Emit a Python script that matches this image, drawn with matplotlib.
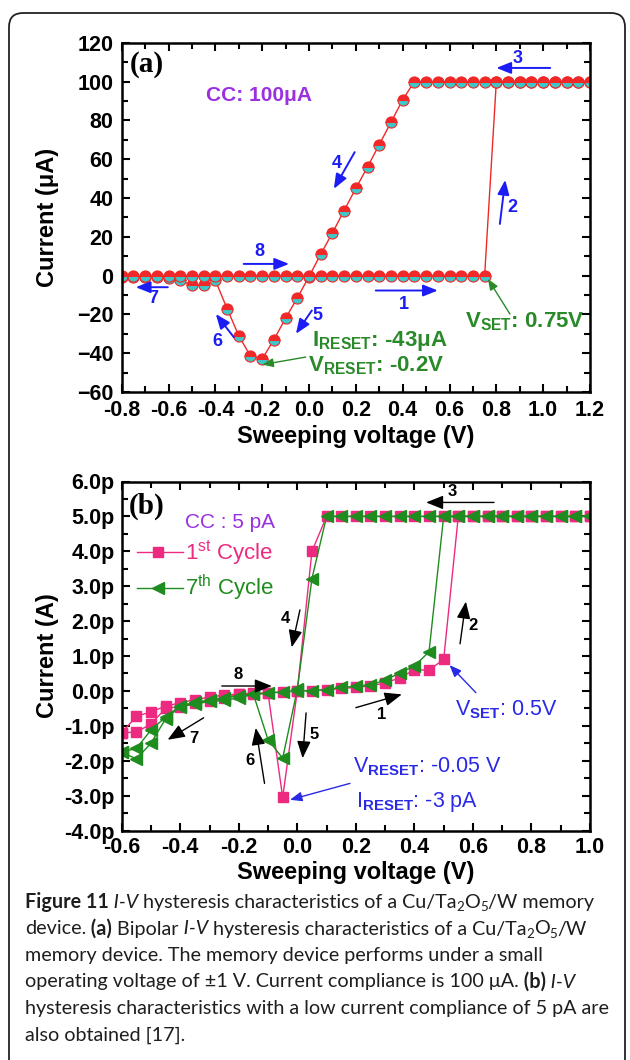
import numpy as np
import matplotlib
matplotlib.use('Agg')
import matplotlib.pyplot as plt
import matplotlib.transforms as mtransforms
from matplotlib.patches import FancyBboxPatch
from matplotlib.ticker import MultipleLocator, FuncFormatter

plt.rcParams['font.family'] = ['Liberation Sans', 'DejaVu Sans']
plt.rcParams['mathtext.fontset'] = 'custom'
plt.rcParams['mathtext.rm'] = 'Liberation Sans'
plt.rcParams['mathtext.bf'] = 'Liberation Sans:bold'
plt.rcParams['mathtext.it'] = 'Liberation Sans:italic'

# ---- panel (a) data : Cu/Ta2O5/W, CC 100 uA
volt_a = [-0.80, -0.75, -0.70, -0.65, -0.60, -0.55, -0.50, -0.45, -0.40, -0.35,
          -0.30, -0.25, -0.20, -0.15, -0.10, -0.05, 0.00, 0.05, 0.10, 0.15,
          0.20, 0.25, 0.30, 0.35, 0.40, 0.45, 0.50, 0.55, 0.60, 0.65,
          0.70, 0.75, 0.80, 0.85, 0.90, 0.95, 1.00, 1.05, 1.10, 1.15, 1.20]
# forward sweep (1 -> 2 -> 3)
cur_set_a = [0, 0, 0, 0, 0, 0, 0, 0, 0, 0,
             0, 0, 0, 0, 0, 0, 0, 0, 0, 0,
             0, 0, 0, 0, 0, 0, 0, 0, 0, 0,
             0, 0, 100, 100, 100, 100, 100, 100, 100, 100, 100]
# reverse sweep (3 -> 4 -> 5 -> 6 -> 7)
cur_reset_a = [-0.5, -0.5, -0.5, -0.5, -1.0, -2.5, -5.0, -5.0, -2.5, -17.0,
               -31.0, -41.5, -43.0, -33.0, -22.0, -11.5, -0.5, 11.0, 22.0, 33.5,
               45.0, 56.0, 67.5, 79.0, 90.5, 100, 100, 100, 100, 100,
               100, 100, 100, 100, 100, 100, 100, 100, 100, 100, 100]

# ---- panel (b) data : CC 5 pA, current in pA
volt_b = [-0.60, -0.55, -0.50, -0.45, -0.40, -0.35, -0.30, -0.25, -0.20, -0.15,
          -0.10, -0.05, 0.00, 0.05, 0.10, 0.15, 0.20, 0.25, 0.30, 0.35,
          0.40, 0.45, 0.50, 0.55, 0.60, 0.65, 0.70, 0.75, 0.80, 0.85,
          0.90, 0.95, 1.00]
cyc1_fwd = [-1.20, -0.73, -0.60, -0.44, -0.34, -0.25, -0.18, -0.12, -0.09, -0.07,
            -0.06, -0.03, 0.00, 0.01, 0.03, 0.07, 0.10, 0.15, 0.22, 0.38,
            0.60, 0.60, 0.90, 5.0, 5.0, 5.0, 5.0, 5.0, 5.0, 5.0,
            5.0, 5.0, 5.0]
cyc1_rev = [-1.20, -1.18, -0.95, -0.50, -0.45, -0.35, -0.28, -0.20, -0.10, -0.09,
            -0.07, -3.05, 0.00, 4.00, 5.0, 5.0, 5.0, 5.0, 5.0, 5.0,
            5.0, 5.0, 5.0, 5.0, 5.0, 5.0, 5.0, 5.0, 5.0, 5.0,
            5.0, 5.0, 5.0]
cyc7_fwd = [-1.75, -1.65, -1.12, -0.75, -0.42, -0.33, -0.26, -0.20, -0.15, -0.10,
            -0.06, -0.03, 0.00, 0.01, 0.03, 0.10, 0.13, 0.18, 0.30, 0.52,
            0.71, 1.12, 5.0, 5.0, 5.0, 5.0, 5.0, 5.0, 5.0, 5.0,
            5.0, 5.0, 5.0]
cyc7_rev = [-1.75, -1.95, -1.50, -0.80, -0.45, -0.38, -0.30, -0.27, -0.20, -0.10,
            -1.40, -1.93, 0.05, 3.22, 5.0, 5.0, 5.0, 5.0, 5.0, 5.0,
            5.0, 5.0, 5.0, 5.0, 5.0, 5.0, 5.0, 5.0, 5.0, 5.0,
            5.0, 5.0, 5.0]

W, H = 630, 1060
fig = plt.figure(figsize=(W / 100, H / 100), dpi=100)

# outer rounded frame
frame = FancyBboxPatch((9, -20), 616, H - 13 + 20, boxstyle='round,pad=0,rounding_size=14',
                       transform=mtransforms.IdentityTransform(), fill=False,
                       edgecolor='#222222', lw=1.3)
fig.patches.append(frame)


def px_axes(left, top, right, bottom):
    return fig.add_axes([left / W, 1 - bottom / H, (right - left) / W, (bottom - top) / H])


def style_axes(ax):
    for s in ax.spines.values():
        s.set_linewidth(1.8)
    ax.tick_params(which='both', direction='in', top=True, right=True, width=1.5)
    ax.tick_params(which='major', length=6, labelsize=15.5, pad=6)
    ax.tick_params(which='minor', length=4)
    for lab in ax.get_xticklabels() + ax.get_yticklabels():
        lab.set_fontweight('bold')


def arrow(ax, tail, head, color, lw=1.4, ms=16):
    ax.annotate('', xy=head, xytext=tail,
                arrowprops=dict(arrowstyle='-|>,head_length=0.55,head_width=0.22',
                                color=color, lw=lw, mutation_scale=ms, shrinkA=0, shrinkB=0))


# ================= panel (a)
ax1 = px_axes(121.7, 42.7, 590, 392)
red = '#f02828'
cyan = '#3cc8c8'
mk = dict(marker='o', ms=8, fillstyle='top', markerfacecolor=red,
          markerfacecoloralt=cyan, markeredgecolor=red, mew=0.8)
ax1.plot(volt_a, cur_reset_a, color=red, lw=1.0, **mk)
ax1.plot(volt_a, cur_set_a, color=red, lw=1.0, **mk)
ax1.set_xlim(-0.8, 1.2)
ax1.set_ylim(-60, 120)
ax1.xaxis.set_major_locator(MultipleLocator(0.2))
ax1.xaxis.set_minor_locator(MultipleLocator(0.1))
ax1.yaxis.set_major_locator(MultipleLocator(20))
ax1.yaxis.set_minor_locator(MultipleLocator(10))
ax1.xaxis.set_major_formatter(FuncFormatter(lambda v, p: f'{v:.1f}'))
style_axes(ax1)
ax1.set_xlabel('Sweeping voltage (V)', fontsize=17, fontweight='bold', va='center')
ax1.xaxis.set_label_coords(0.5, -(437 - 392) / 349.3)
ax1.set_ylabel('Current (μA)', fontsize=17, fontweight='bold', va='center')
ax1.yaxis.set_label_coords((48 - 121.7) / 468.3, 0.5)

ax1.text(-0.765, 109, '(a)', family='Liberation Serif', fontweight='bold', fontsize=21, va='center')
purple = '#9a30e0'
ax1.text(-0.44, 93, 'CC: 100μA', color=purple, fontweight='bold', fontsize=15, va='center')

blue = '#1c1cf5'
for tail, head, num, pos in [((1.03, 107), (0.80, 107), '3', (0.89, 112)),
                             ((0.195, 63.6), (0.106, 44.7), '4', (0.12, 58)),
                             ((0.815, 26.6), (0.838, 49.3), '2', (0.87, 35)),
                             ((-0.279, 6), (-0.085, 6), '8', (-0.214, 12.5)),
                             ((0.285, -7.7), (0.55, -7.7), '1', (0.405, -15)),
                             ((-0.603, -6), (-0.74, -6), '7', (-0.667, -11.7)),
                             ((-0.321, -31.8), (-0.398, -19.8), '6', (-0.39, -34)),
                             ((0.012, -18), (-0.056, -30), '5', (0.038, -20.6))]:
    arrow(ax1, tail, head, blue)
    ax1.text(pos[0], pos[1], num, color=blue, fontweight='bold', fontsize=13,
             ha='center', va='center')

green = '#2a8a2a'
ax1.text(0.012, -33.5, r'I$_{\mathbf{RESET}}$: -43μA', color=green, fontweight='bold',
         fontsize=16, va='center')
ax1.text(-0.005, -46.4, r'V$_{\mathbf{RESET}}$: -0.2V', color=green, fontweight='bold',
         fontsize=16, va='center')
ax1.text(0.665, -24, r'V$_{\mathbf{SET}}$: 0.75V', color=green, fontweight='bold',
         fontsize=16, va='center')
arrow(ax1, (-0.014, -42), (-0.2, -45.9), green, lw=1.0, ms=12)
arrow(ax1, (0.858, -19.8), (0.764, -1.7), green, lw=1.0, ms=12)

# ================= panel (b)
ax2 = px_axes(121.7, 481.5, 590, 830.5)
pink = '#ec2a80'
dgreen = '#1e8c1e'
for cur in (cyc1_rev, cyc1_fwd):
    ax2.plot(volt_b, cur, color=pink, lw=1.0, marker='s', ms=6.5, mec=pink, mfc=pink)
for cur in (cyc7_rev, cyc7_fwd):
    ax2.plot(volt_b, cur, color=dgreen, lw=1.0, marker='<', ms=8, mec=dgreen, mfc=dgreen)
ax2.set_xlim(-0.6, 1.0)
ax2.set_ylim(-4, 6)
ax2.xaxis.set_major_locator(MultipleLocator(0.2))
ax2.xaxis.set_minor_locator(MultipleLocator(0.1))
ax2.yaxis.set_major_locator(MultipleLocator(1))
ax2.yaxis.set_minor_locator(MultipleLocator(0.5))
ax2.xaxis.set_major_formatter(FuncFormatter(lambda v, p: f'{v:.1f}'))
ax2.yaxis.set_major_formatter(FuncFormatter(lambda v, p: f'{v:.1f}p'))
style_axes(ax2)
ax2.tick_params(which='major', pad=5)
ax2.set_xlabel('Sweeping voltage (V)', fontsize=17, fontweight='bold', va='center')
ax2.xaxis.set_label_coords(0.5, -(872 - 830.5) / 349)
ax2.set_ylabel('Current (A)', fontsize=17, fontweight='bold', va='center')
ax2.yaxis.set_label_coords((48 - 121.7) / 468.3, 0.5)

ax2.text(-0.575, 5.3, '(b)', family='Liberation Serif', fontweight='bold', fontsize=21, va='center')
ax2.text(-0.384, 4.83, 'CC : 5 pA', color=purple, fontsize=15, va='center')
# hand-made legend
ax2.plot([-0.549, -0.391], [3.97, 3.97], color=pink, lw=1.0)
ax2.plot([-0.475], [3.97], color=pink, marker='s', ms=6.5)
ax2.text(-0.385, 3.97, r'1$^{\mathrm{st}}$ Cycle', color=pink, fontsize=16, va='center')
ax2.plot([-0.549, -0.391], [2.95, 2.95], color=dgreen, lw=1.0)
ax2.plot([-0.475], [2.95], color=dgreen, marker='<', ms=8)
ax2.text(-0.385, 2.95, r'7$^{\mathrm{th}}$ Cycle', color=dgreen, fontsize=16, va='center')

for tail, head, num, pos in [((0.672, 5.4), (0.44, 5.4), '3', (0.53, 5.72)),
                             ((0.009, 2.32), (-0.019, 1.25), '4', (-0.04, 2.07)),
                             ((0.556, 1.35), (0.576, 2.56), '2', (0.60, 1.88)),
                             ((-0.258, 0.14), (-0.087, 0.14), '8', (-0.203, 0.48)),
                             ((0.20, -0.48), (0.357, -0.10), '1', (0.289, -0.68)),
                             ((0.03, -0.63), (0.018, -1.93), '5', (0.056, -1.25)),
                             ((-0.112, -2.65), (-0.142, -1.06), '6', (-0.162, -1.98)),
                             ((-0.32, -0.77), (-0.443, -1.40), '7', (-0.354, -1.35))]:
    arrow(ax2, tail, head, 'black', lw=1.0, ms=19)
    ax2.text(pos[0], pos[1], num, color='black', fontweight='bold', fontsize=12,
             ha='center', va='center')

bblue = '#2a2ae6'
ax2.text(0.54, -0.53, r'V$_{\mathbf{SET}}$: 0.5V', color=bblue, fontsize=15.5, va='center')
ax2.text(0.19, -2.17, r'V$_{\mathbf{RESET}}$: -0.05 V', color=bblue, fontsize=15.5, va='center')
ax2.text(0.20, -3.19, r'I$_{\mathbf{RESET}}$: -3 pA', color=bblue, fontsize=15.5, va='center')
arrow(ax2, (0.61, -0.05), (0.52, 0.74), bblue, lw=1.0, ms=13)
arrow(ax2, (0.18, -2.65), (-0.025, -3.12), bblue, lw=1.0, ms=13)

# ================= caption
cap_lines = [
    [('Figure 11', 'b'), (' I-V', 'i'), (' hysteresis characteristics of a Cu/Ta', ''),
     ('2', 's'), ('O', ''), ('5', 's'), ('/W memory', '')],
    [('device.', ''), (' (a)', 'b'), (' Bipolar', ''), (' I-V', 'i'),
     (' hysteresis characteristics of a Cu/Ta', ''), ('2', 's'), ('O', ''), ('5', 's'), ('/W', '')],
    [('memory device. The memory device performs under a small', '')],
    [('operating voltage of \u00b11 V. Current compliance is 100 \u03bcA.', ''), (' (b)', 'b'),
     (' I-V', 'i')],
    [('hysteresis characteristics with a low current compliance of 5 pA are', '')],
    [('also obtained [17].', '')],
]
cap_y = [903, 929.5, 956, 982.5, 1009, 1035.5]
cap_font = 'Lato'
renderer = fig.canvas.get_renderer()


def draw_line(runs, y, size):
    x = 25
    made = []
    for txt, st in runs:
        kw = dict(family=cap_font, fontsize=size, color='#1e1e1e', va='baseline')
        yy = y + 5
        if 'b' in st:
            kw['fontweight'] = 'bold'
        if 'i' in st:
            kw['fontstyle'] = 'italic'
        if 's' in st:
            kw['fontsize'] = size * 0.68
            yy += 3
        t = fig.text(x / W, 1 - yy / H, txt, **kw)
        made.append(t)
        x += t.get_window_extent(renderer).width
    return x, made


# fit first caption line to the width seen in the reference (ends near x=594)
end, tmp = draw_line(cap_lines[0], cap_y[0], 13.5)
for t in tmp:
    t.remove()
cap_size = 13.5 * (594 - 25) / (end - 25)

for runs, y in zip(cap_lines, cap_y):
    draw_line(runs, y, cap_size)

fig.savefig('out.png', dpi=100)
